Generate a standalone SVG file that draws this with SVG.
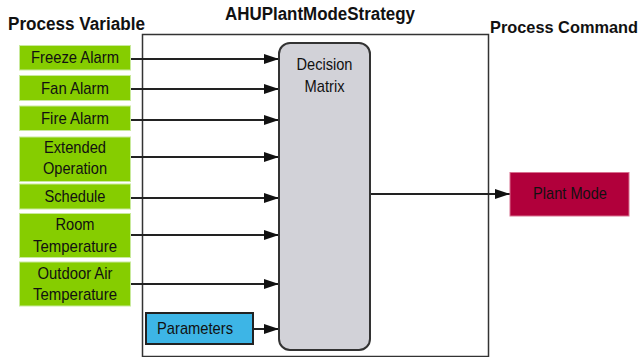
<svg xmlns="http://www.w3.org/2000/svg" width="644" height="357" viewBox="0 0 644 357">
  <style>
    .title { font-family: "Liberation Sans", Arial, sans-serif; font-size: 18px; font-weight: bold; fill: #111; }
    .title.sm { font-size: 17px; }
    .lbl { font-family: "Liberation Sans", Arial, sans-serif; font-size: 17px; fill: #111; text-anchor: middle; }
    .pv { fill: #86cd00; stroke: #c9ea9c; stroke-width: 1; }
    .wire { stroke: #222; stroke-width: 2; fill: none; marker-end: url(#arrow); }
  </style>
  <defs>
    <marker id="arrow" viewBox="0 0 15 10" refX="15" refY="5" markerWidth="15" markerHeight="10" markerUnits="userSpaceOnUse" orient="auto">
      <path d="M0,0 L15,5 L0,10 z" fill="#111"/>
    </marker>
  </defs>
  <rect width="644" height="357" fill="#fff"/>

  <!-- headings -->
  <text class="title" x="8" y="30" textLength="137" lengthAdjust="spacingAndGlyphs">Process Variable</text>
  <text class="title" x="225" y="20" textLength="190" lengthAdjust="spacingAndGlyphs">AHUPlantModeStrategy</text>
  <text class="title sm" x="490" y="33" textLength="148" lengthAdjust="spacingAndGlyphs">Process Command</text>

  <!-- strategy block frame -->
  <g id="strategy">
    <rect x="142.5" y="34.5" width="346" height="322" fill="none" stroke="#333" stroke-width="1.5"/>
  </g>

  <!-- connectors -->
  <g id="connectors">
    <line class="wire" x1="129" y1="59" x2="279" y2="59"/>
    <line class="wire" x1="129" y1="89" x2="279" y2="89"/>
    <line class="wire" x1="129" y1="120" x2="279" y2="120"/>
    <line class="wire" x1="129" y1="157" x2="279" y2="157"/>
    <line class="wire" x1="129" y1="198" x2="279" y2="198"/>
    <line class="wire" x1="129" y1="235" x2="279" y2="235"/>
    <line class="wire" x1="129" y1="284" x2="279" y2="284"/>
    <line class="wire" x1="253" y1="329" x2="279" y2="329"/>
    <line class="wire" x1="370" y1="194" x2="510" y2="194"/>
  </g>

  <g id="decision-matrix">
    <rect x="279" y="43" width="91" height="307" rx="11" fill="#d2d2d8" stroke="#333" stroke-width="2"/>
    <text class="lbl" x="324.5" y="70" textLength="56" lengthAdjust="spacingAndGlyphs">Decision</text>
    <text class="lbl" x="324.5" y="91.5" textLength="40" lengthAdjust="spacingAndGlyphs">Matrix</text>
  </g>

  <g id="freeze-alarm">
    <rect class="pv" x="19.5" y="45.5" width="111" height="24.5"/>
    <text class="lbl" x="75" y="63" textLength="88" lengthAdjust="spacingAndGlyphs">Freeze Alarm</text>
  </g>
  <g id="fan-alarm">
    <rect class="pv" x="19.5" y="75.5" width="111" height="25"/>
    <text class="lbl" x="75" y="94" textLength="68" lengthAdjust="spacingAndGlyphs">Fan Alarm</text>
  </g>
  <g id="fire-alarm">
    <rect class="pv" x="19.5" y="106" width="111" height="24.5"/>
    <text class="lbl" x="75" y="123.5" textLength="68" lengthAdjust="spacingAndGlyphs">Fire Alarm</text>
  </g>
  <g id="extended-operation">
    <rect class="pv" x="19.5" y="137" width="111" height="44.5"/>
    <text class="lbl" x="75" y="152.5" textLength="62" lengthAdjust="spacingAndGlyphs">Extended</text>
    <text class="lbl" x="75" y="173.5" textLength="64" lengthAdjust="spacingAndGlyphs">Operation</text>
  </g>
  <g id="schedule">
    <rect class="pv" x="19.5" y="184" width="111" height="25"/>
    <text class="lbl" x="75" y="202" textLength="61" lengthAdjust="spacingAndGlyphs">Schedule</text>
  </g>
  <g id="room-temperature">
    <rect class="pv" x="19.5" y="213.5" width="111" height="44"/>
    <text class="lbl" x="75" y="230" textLength="39" lengthAdjust="spacingAndGlyphs">Room</text>
    <text class="lbl" x="75" y="251.5" textLength="84" lengthAdjust="spacingAndGlyphs">Temperature</text>
  </g>
  <g id="outdoor-air-temperature">
    <rect class="pv" x="19.5" y="262" width="111" height="44"/>
    <text class="lbl" x="75" y="279" textLength="75" lengthAdjust="spacingAndGlyphs">Outdoor Air</text>
    <text class="lbl" x="75" y="300" textLength="84" lengthAdjust="spacingAndGlyphs">Temperature</text>
  </g>

  <g id="parameters">
    <rect x="146" y="313" width="107" height="31" fill="#3db5e6" stroke="#222" stroke-width="2"/>
    <text class="lbl" x="195" y="333.5" textLength="76" lengthAdjust="spacingAndGlyphs">Parameters</text>
  </g>

  <g id="plant-mode">
    <rect x="510" y="172.5" width="119" height="43.5" fill="#b1003b" stroke="#d8708f" stroke-width="1"/>
    <text class="lbl" x="570" y="199" textLength="74" lengthAdjust="spacingAndGlyphs">Plant Mode</text>
  </g>
</svg>
